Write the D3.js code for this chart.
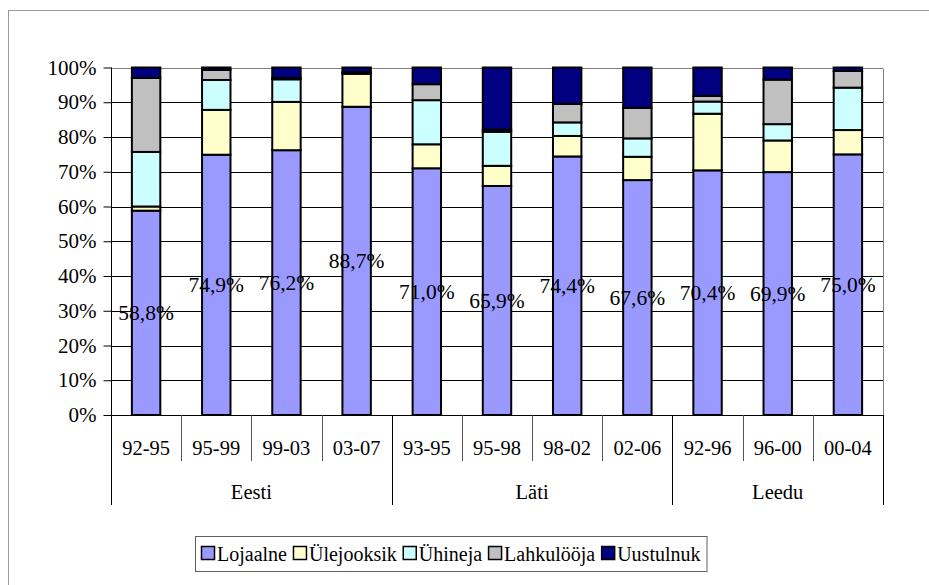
<!DOCTYPE html>
<html><head><meta charset="utf-8">
<script src="https://cdn.jsdelivr.net/npm/d3@7"></script>
<style>body{margin:0;background:#fff}svg{display:block}</style>
</head><body><svg id="c" width="929" height="585"></svg>
<script>
const categories = ["92-95","95-99","99-03","03-07","93-95","95-98","98-02","02-06","92-96","96-00","00-04"];
const groups = ["Eesti","Läti","Leedu"];
const groupSizes = [4,4,3];
const seriesNames = ["Lojaalne","Ülejooksik","Ühineja","Lahkulööja","Uustulnuk"];
const lojaalne   = [58.8,74.9,76.2,88.7,71.0,65.9,74.4,67.6,70.4,69.9,75.0];
const ylejooksik = [1.2,12.9,13.9,9.5,6.9,5.8,5.9,6.7,16.3,9.1,7.0];
const yhineja    = [15.7,8.6,6.5,0.2,12.7,9.8,3.9,5.3,3.5,4.7,12.2];
const lahkulooja = [21.3,2.9,0.4,0.3,4.6,0.6,5.3,8.8,1.6,12.8,4.8];
const uustulnuk  = [3.0,0.7,3.0,1.3,4.8,17.9,10.5,11.6,8.2,3.5,1.0];
const yTicks = [0,10,20,30,40,50,60,70,80,90,100];
const colors = ["#9999FF","#FFFFCC","#CCFFFF","#C0C0C0","#000080"];

const FONT = "Liberation Serif, DejaVu Serif, serif";
const seriesValues = [lojaalne, ylejooksik, yhineja, lahkulooja, uustulnuk];
const rows = categories.map((c,i)=>{const r={cat:c};seriesNames.forEach((s,j)=>r[s]=seriesValues[j][i]);return r;});

const svg = d3.select("#c");
const L=111, R=883, T=67.5, B=415;
const x = d3.scaleBand().domain(categories).range([L,R]).paddingInner(0.595).paddingOuter(0.2975);
const xs = d3.scaleBand().domain(categories).range([L,R]);
const y = d3.scaleLinear().domain([0,100]).range([B,T]);

function txt(size){ return sel=>sel.attr("font-family",FONT).attr("font-size",size).attr("fill","#000"); }

svg.append("rect").attr("x",8.5).attr("y",10.5).attr("width",940).attr("height",600)
  .attr("fill","none").attr("stroke","#9a9a9a").attr("stroke-width",1);

svg.append("g").selectAll("line").data(yTicks).join("line")
  .attr("x1",L).attr("x2",R).attr("y1",d=>Math.round(y(d))+0.5).attr("y2",d=>Math.round(y(d))+0.5)
  .attr("stroke",d=>d===100?"#808080":"#000").attr("stroke-width",1);
svg.append("line").attr("x1",R+0.5).attr("x2",R+0.5).attr("y1",Math.round(T)+0.5).attr("y2",B)
  .attr("stroke","#808080");

const stack = d3.stack().keys(seriesNames)(rows);
svg.append("g").selectAll("g").data(stack).join("g")
  .attr("fill",(d,i)=>colors[i])
  .selectAll("rect").data(d=>d).join("rect")
  .attr("x",d=>x(d.data.cat)).attr("width",x.bandwidth())
  .attr("y",d=>y(d[1])).attr("height",d=>y(d[0])-y(d[1]))
  .attr("stroke","#000").attr("stroke-width",2);

const yAxis = d3.axisLeft(y).tickValues(yTicks).tickFormat(d=>d+"%").tickSize(8).tickPadding(7);
const ya = svg.append("g").attr("transform",`translate(${L+0.5},0)`).call(yAxis)
  .attr("font-family",FONT).attr("font-size",21);
ya.select(".domain").attr("stroke","#000").attr("d",`M0,${T}V${B}`);
ya.selectAll(".tick line").attr("stroke","#000");
ya.selectAll(".tick text").call(txt(21));

svg.append("line").attr("x1",L).attr("x2",R).attr("y1",B+0.5).attr("y2",B+0.5).attr("stroke","#000");

const groupStarts=[0]; groupSizes.forEach((s,i)=>groupStarts.push(groupStarts[i]+s));
const bounds = d3.range(categories.length+1);
svg.append("g").selectAll("line").data(bounds).join("line")
  .attr("x1",i=>Math.round(i<categories.length?xs(categories[i]):R)+0.5)
  .attr("x2",i=>Math.round(i<categories.length?xs(categories[i]):R)+0.5)
  .attr("y1",B).attr("y2",i=>groupStarts.includes(i)?505:461)
  .attr("stroke",i=>groupStarts.includes(i)?"#000":"#555");

svg.append("g").selectAll("text").data(categories).join("text")
  .attr("x",d=>xs(d)+xs.bandwidth()/2).attr("y",448).attr("dy","0.35em")
  .attr("text-anchor","middle").call(txt(20.5)).text(d=>d);

svg.append("g").selectAll("text").data(groups).join("text")
  .attr("x",(d,i)=>{const a=xs(categories[groupStarts[i]]);const b=groupStarts[i+1]<categories.length?xs(categories[groupStarts[i+1]]):R;return (a+b)/2;})
  .attr("y",492).attr("dy","0.35em").attr("text-anchor","middle").call(txt(20.5)).text(d=>d);

svg.append("g").selectAll("text").data(stack[0]).join("text")
  .attr("x",d=>x(d.data.cat)+x.bandwidth()/2).attr("y",d=>(y(d[0])+y(d[1]))/2).attr("dy","0.35em")
  .attr("text-anchor","middle").call(txt(21.5))
  .text(d=>d3.format(".1f")(d[1]-d[0]).replace(".",",")+"%");

const lg = svg.append("g");
const lgBox = lg.append("rect").attr("fill","#fff").attr("stroke","#606060").attr("stroke-width",1);
let cx = 201;
const ly = 554;
seriesNames.forEach((s,i)=>{
  lg.append("rect").attr("x",cx+0.5).attr("y",ly-7.5).attr("width",13).attr("height",13)
    .attr("fill",colors[i]).attr("stroke","#000").attr("stroke-width",1.5);
  const t = lg.append("text").attr("x",cx+16).attr("y",ly).attr("dy","0.35em").call(txt(20)).text(s);
  cx += 16 + t.node().getComputedTextLength() + 6;
});
lgBox.attr("x",195.5).attr("y",536.5).attr("width",cx-195).attr("height",35);
</script></body></html>
